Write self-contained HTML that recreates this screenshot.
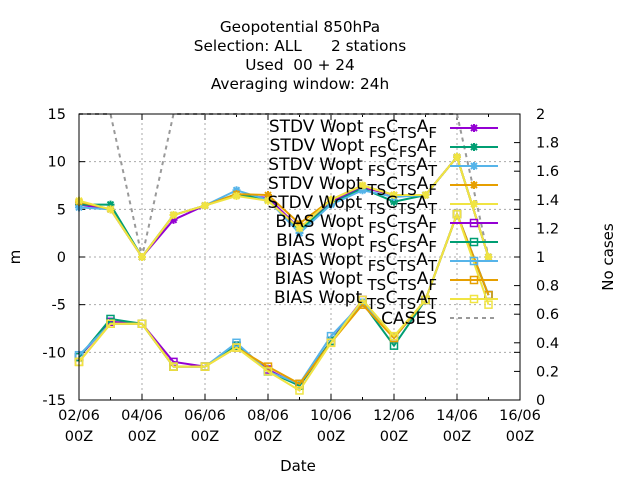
<!DOCTYPE html>
<html><head><meta charset="utf-8"><style>
body{margin:0;background:#fff}
svg{display:block;font-family:"DejaVu Sans","Liberation Sans",sans-serif}
text{white-space:pre}
</style></head><body>
<svg id="c" width="640" height="480" xmlns="http://www.w3.org/2000/svg">
<g font-size="15.3" text-anchor="middle">
<text x="300" y="32">Geopotential 850hPa</text>
<text x="300" y="51">Selection: ALL      2 stations</text>
<text x="300" y="70">Used  00 + 24</text>
<text x="300" y="89">Averaging window: 24h</text>
</g>
<text font-size="15" transform="translate(20,257) rotate(-90)" text-anchor="middle">m</text>
<text font-size="15" transform="translate(613,257) rotate(-90)" text-anchor="middle">No cases</text>
<text font-size="15" x="298" y="471" text-anchor="middle">Date</text>
<g id="grid"></g><g id="series"></g><g id="legend"></g>
<rect x="79" y="114" width="441" height="286" fill="none" stroke="#000"/>
</svg>
<script>
const days=[2,3,4,5,6,7,8,9,10,11,12,13,14,15];
const xTicks=[2,4,6,8,10,12,14,16];
const xTickLabels=["02/06","04/06","06/06","08/06","10/06","12/06","14/06","16/06"];
const yTicks=[-15,-10,-5,0,5,10,15];
const y2Ticks=[0,0.2,0.4,0.6,0.8,1,1.2,1.4,1.6,1.8,2];
const cases=[2,2,1,2,2,2,2,2,2,2,2,2,2,1];
const stdv1=[5.5,5.0,0,3.9,5.4,6.5,6.2,3.0,5.8,7.3,6.5,6.5,10.5,0];
const stdv2=[5.5,5.5,0,4.4,5.4,6.6,6.0,2.8,5.6,7.2,5.8,6.5,10.5,0];
const stdv3=[5.2,5.0,0,4.4,5.4,7.0,6.0,2.5,5.5,7.0,6.3,6.5,10.5,0];
const stdv4=[5.8,5.0,0,4.4,5.4,6.6,6.5,3.5,6.0,7.5,6.5,6.5,10.5,0];
const stdv5=[5.9,5.0,0,4.4,5.4,6.4,5.9,3.0,6.0,7.5,6.5,6.5,10.5,0];
const bias1=[-10.5,-6.8,-7,-11,-11.5,-9.3,-11.8,-13.5,-8.8,-4.5,-8.5,-4.5,4.5,-4];
const bias2=[-10.5,-6.5,-7,-11.5,-11.5,-9.3,-12,-13.5,-8.8,-4.8,-9.3,-4.5,4.5,-4];
const bias3=[-10.3,-7,-7,-11.5,-11.5,-9,-12,-13.3,-8.3,-4.8,-8.5,-4.5,4.5,-4];
const bias4=[-11,-7,-7,-11.5,-11.5,-9.5,-11.5,-13.3,-9,-5,-8.5,-4.5,4.5,-4];
const bias5=[-11,-7,-7,-11.5,-11.5,-9.5,-12,-14,-9,-4.5,-8.3,-4.5,4.5,-5];
const X0=79,X1=520,Y0=400,Y1=114;
const xs=d=>X0+(d-2)/14*(X1-X0);
const ys=v=>Y0-(v+15)/30*(Y0-Y1);
const y2s=v=>Y0-v/2*(Y0-Y1);
const NS="http://www.w3.org/2000/svg";
function mk(tag,attrs,parent){const e=document.createElementNS(NS,tag);for(const k in attrs)e.setAttribute(k,attrs[k]);parent.appendChild(e);return e;}
const grid=document.getElementById('grid');
xTicks.forEach((t,i)=>{const x=xs(t);
 if(i>0&&i<xTicks.length-1){const l=mk('line',{x1:x,x2:x,y1:Y0,y2:Y1,stroke:'#aaa','stroke-dasharray':'2,3'},grid);}
 mk('line',{x1:x,x2:x,y1:Y0,y2:Y0-6,stroke:'#000'},grid);mk('line',{x1:x,x2:x,y1:Y1,y2:Y1+6,stroke:'#000'},grid);
 const t1=mk('text',{x:x,y:Y0+20,'font-size':14.5,'text-anchor':'middle'},grid);t1.textContent=xTickLabels[i];
 
 const t2=mk('text',{x:x,y:Y0+41,'font-size':14.5,'text-anchor':'middle'},grid);t2.textContent='00Z';
 
});
days.forEach(d=>{if(d%2){const x=xs(d);mk('line',{x1:x,x2:x,y1:Y0,y2:Y0-3,stroke:'#000'},grid);mk('line',{x1:x,x2:x,y1:Y1,y2:Y1+3,stroke:'#000'},grid);}});
yTicks.forEach((t,i)=>{const y=ys(t);
 if(i>0&&i<yTicks.length-1){const l=mk('line',{x1:X0,x2:X1,y1:y,y2:y,stroke:'#aaa','stroke-dasharray':'2,3'},grid);}
 mk('line',{x1:X0,x2:X0+6,y1:y,y2:y,stroke:'#000'},grid);mk('line',{x1:X1,x2:X1-6,y1:y,y2:y,stroke:'#000'},grid);
 const tx=mk('text',{x:X0-13,y:y+5,'font-size':14.5,'text-anchor':'end'},grid);tx.textContent=t;
 
});
y2Ticks.forEach(t=>{const y=y2s(t);
 mk('line',{x1:X1,x2:X1-6,y1:y,y2:y,stroke:'#000'},grid);
 const tx=mk('text',{x:X1+16,y:y+5,'font-size':14.5},grid);tx.textContent=t;
 
});
const ser=document.getElementById('series');
const cols=['#9400d3','#009e73','#56b4e9','#e69f00','#f0e442'];
const stdvs=[stdv1,stdv2,stdv3,stdv4,stdv5];
const biases=[bias1,bias2,bias3,bias4,bias5];
function star(g,x,y,c){mk('path',{d:`M${x-4},${y}H${x+4}M${x},${y-4}V${y+4}M${x-3},${y-3}L${x+3},${y+3}M${x-3},${y+3}L${x+3},${y-3}`,stroke:c,'stroke-width':2,fill:'none'},g);}
function sq(g,x,y,c){mk('rect',{x:x-3.5,y:y-3.5,width:7,height:7,stroke:c,'stroke-width':1.5,fill:'none'},g);}
const cg=mk('polyline',{points:days.map((d,i)=>xs(d)+','+y2s(cases[i])).join(' '),fill:'none',stroke:'#999','stroke-width':2,'stroke-dasharray':'4,4'},ser);

[['stdv',stdvs,star],['bias',biases,sq]].forEach(([nm,arrs,mark])=>{
 arrs.forEach((a,k)=>{const g=mk('g',{},ser);
  
  mk('polyline',{points:days.map((d,i)=>xs(d)+','+ys(a[i])).join(' '),fill:'none',stroke:cols[k],'stroke-width':2},g);
  days.forEach((d,i)=>mark(g,xs(d),ys(a[i]),cols[k]));
 });
});
const leg=document.getElementById('legend');
const subs=[['FS','TS','F'],['FS','FS','F'],['FS','TS','T'],['TS','TS','F'],['TS','TS','T']];
function entry(i,prefix,s,c,mark){const y=128+i*19;
 const g=mk('g',{},leg);
 const t=mk('text',{x:437,y:y+4,'font-size':17,'text-anchor':'end'},g);
 t.innerHTML=`${prefix} Wopt<tspan dy="6" font-size="15"> ${s[0]}</tspan><tspan dy="-6">C</tspan><tspan dy="6" font-size="15">${s[1]}</tspan><tspan dy="-6">A</tspan><tspan dy="6" font-size="15">${s[2]}</tspan>`;
 mk('line',{x1:450,x2:498,y1:y,y2:y,stroke:c,'stroke-width':2},g);mark(g,474,y,c);}
for(let k=0;k<5;k++)entry(k,'STDV',subs[k],cols[k],star);
for(let k=0;k<5;k++)entry(k+5,'BIAS',subs[k],cols[k],sq);
const cgl=mk('g',{},leg);
const ct=mk('text',{x:437,y:324,'font-size':17,'text-anchor':'end'},cgl);ct.textContent='CASES';
mk('line',{x1:450,x2:498,y1:318,y2:318,stroke:'#999','stroke-width':2,'stroke-dasharray':'4,4'},cgl);
</script>
</body></html>
